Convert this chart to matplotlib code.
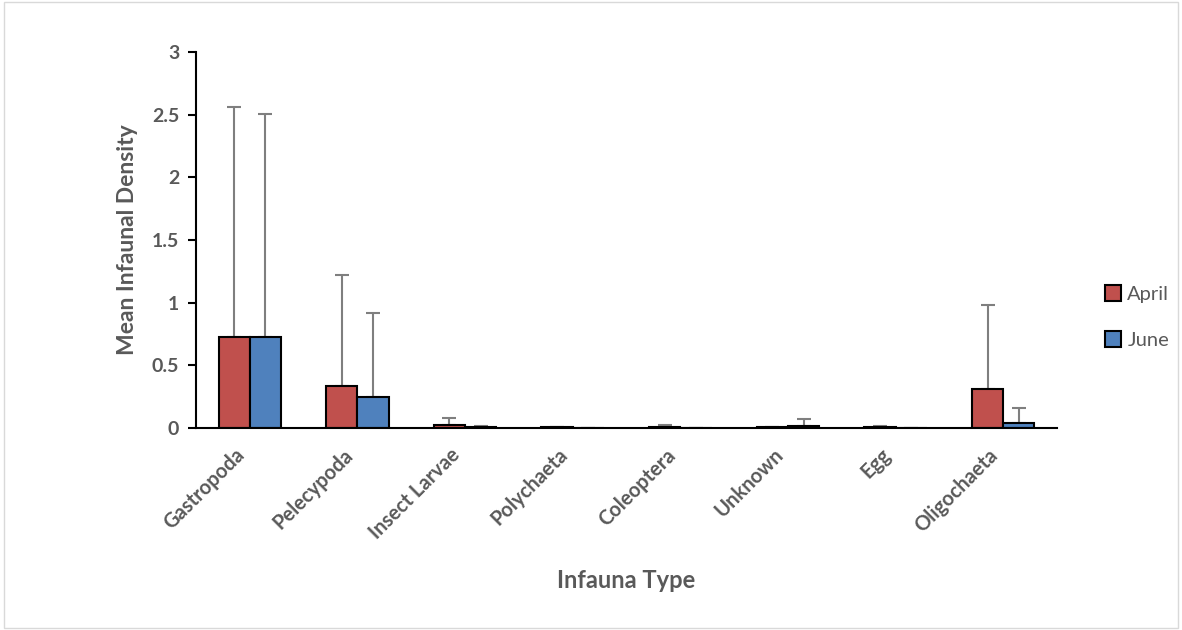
import matplotlib
matplotlib.use("Agg")
import matplotlib.pyplot as plt
import matplotlib.transforms as mtransforms
import numpy as np

categories = ["Gastropoda", "Pelecypoda", "Insect Larvae", "Polychaeta",
              "Coleoptera", "Unknown", "Egg", "Oligochaeta"]
april = [0.73, 0.335, 0.025, 0.004, 0.005, 0.005, 0.005, 0.31]
april_err = [1.83, 0.885, 0.055, 0.0, 0.02, 0.0, 0.01, 0.67]
june = [0.725, 0.25, 0.01, 0.0, 0.0, 0.015, 0.0, 0.04]
june_err = [1.78, 0.67, 0.005, 0.0, 0.0, 0.055, 0.0, 0.12]
yticks = [0, 0.5, 1, 1.5, 2, 2.5, 3]
ytick_labels = ["0", "0.5", "1", "1.5", "2", "2.5", "3"]

plt.rcParams['font.family'] = ['Lato', 'DejaVu Sans']
gray = "#595959"

fig = plt.figure(figsize=(11.82, 6.3), dpi=100)
ax = fig.add_axes([196/1182, 1-428/630, (1057-196)/1182, (428-52)/630])

x = np.arange(len(categories))
w = 0.29
ax.bar(x - w/2, april, w, color="#C0504D", edgecolor="black", linewidth=1.5,
       label="April", zorder=2)
ax.bar(x + w/2, june, w, color="#4F81BD", edgecolor="black", linewidth=1.5,
       label="June", zorder=2)
ax.errorbar(x - w/2, april, yerr=[np.zeros(len(april)), april_err], fmt="none",
            ecolor="#7f7f7f", elinewidth=1.5, capsize=5, capthick=1.5, zorder=1)
ax.errorbar(x + w/2, june, yerr=[np.zeros(len(june)), june_err], fmt="none",
            ecolor="#7f7f7f", elinewidth=1.5, capsize=5, capthick=1.5, zorder=1)

ax.set_xlim(-0.5, len(categories) - 0.5)
ax.set_ylim(0, 3)
ax.set_yticks(yticks)
ax.set_yticklabels(ytick_labels, fontsize=14, fontweight="bold", color=gray)
ax.set_xticks(x)
ax.set_xticklabels([])
ax.tick_params(axis="x", length=0)
# category labels, rotated, anchored at their upper-right corner below each category
lbl_trans = ax.get_xaxis_transform() + mtransforms.ScaledTranslation(
    -8/100, -24/100, fig.dpi_scale_trans)
for xi, name in zip(x, categories):
    ax.text(xi, 0, name, transform=lbl_trans, rotation=45, ha="right", va="center",
            rotation_mode="anchor", fontsize=14.5, fontweight="bold", color=gray)
ax.tick_params(axis="y", direction="out", length=6, width=1.5, color="black", pad=6)
for s in ["top", "right"]:
    ax.spines[s].set_visible(False)
ax.spines["left"].set_linewidth(1.5)
ax.spines["bottom"].set_linewidth(1.5)

ax.set_ylabel("Mean Infaunal Density", fontsize=16.5, fontweight="bold", color=gray, labelpad=10)
ax.text(0.5, -0.405, "Infauna Type", transform=ax.transAxes, ha="center", va="center",
        fontsize=17, fontweight="bold", color=gray)

leg = ax.legend(loc="center left", bbox_to_anchor=(1.035, 0.295), frameon=False,
                fontsize=14.5, handlelength=0.8, handleheight=0.8, labelspacing=1.4,
                handletextpad=0.3)
for t in leg.get_texts():
    t.set_color(gray)

fig.patches.append(plt.Rectangle((0.003, 0.003), 0.994, 0.994, transform=fig.transFigure,
                                 fill=False, edgecolor="#d9d9d9", linewidth=1))
fig.savefig("out.png", dpi=100)
